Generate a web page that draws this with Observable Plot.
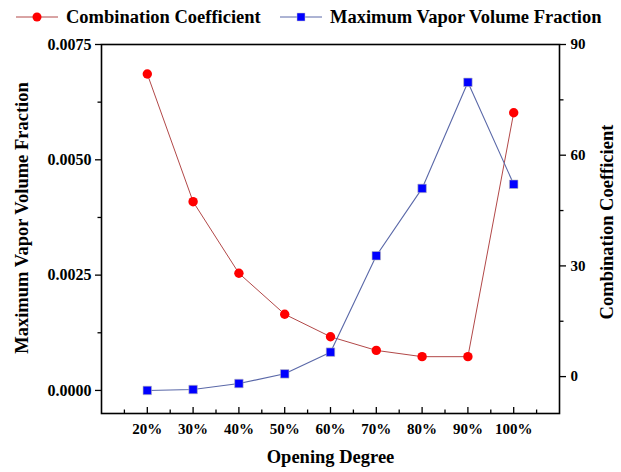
<!DOCTYPE html>
<html><head><meta charset="utf-8">
<script src="https://cdn.jsdelivr.net/npm/d3@7"></script>
<script src="https://cdn.jsdelivr.net/npm/@observablehq/plot@0.6"></script>
<style>
body{margin:0;background:#fff;font-family:"Liberation Serif","Times New Roman",serif;font-weight:bold;color:#000;}
#wrap{position:relative;width:621px;height:472px;overflow:hidden;}
#legend{position:relative;height:34px;width:621px;font-size:18.5px;}
.item{position:absolute;top:0;height:34px;display:flex;align-items:center;white-space:nowrap;}
.item svg{margin-right:8px;}
</style></head><body>
<div id="wrap"><div id="legend"></div><div id="chart"></div></div>
<script>
// ---- data ----
const openings = [20, 30, 40, 50, 60, 70, 80, 90, 100];
const combinationCoefficient = [82.0, 47.4, 28.0, 16.9, 10.8, 7.1, 5.4, 5.4, 71.5];
const maxVaporFraction = [0.00000, 0.00002, 0.00015, 0.00036, 0.00083, 0.00292, 0.00438, 0.00668, 0.00447];
const leftTicks = [0, 0.0025, 0.005, 0.0075];
const leftMinorTicks = [0.00125, 0.00375, 0.00625];
const rightTicks = [0, 30, 60, 90];
const rightMinorTicks = [15, 45, 75];
const xTicks = [20, 30, 40, 50, 60, 70, 80, 90, 100];
const xMinorTicks = [15, 25, 35, 45, 55, 65, 75, 85, 95, 105];
const seriesNames = ["Combination Coefficient", "Maximum Vapor Volume Fraction"];
const axisTitles = {x: "Opening Degree", left: "Maximum Vapor Volume Fraction", right: "Combination Coefficient"};

// ---- scales ----
const xDomain = [10, 110];
const yDomain = [-0.0005, 0.0075];
const rDomain = [-10, 90];
const toLeft = v => yDomain[0] + (v - rDomain[0]) / (rDomain[1] - rDomain[0]) * (yDomain[1] - yDomain[0]);
const fromLeft = v => rDomain[0] + (v - yDomain[0]) / (yDomain[1] - yDomain[0]) * (rDomain[1] - rDomain[0]);

const redLine = "#b24848", redDot = "#ff0000", blueLine = "#5a68a8", blueDot = "#0000ff";

const coefData = openings.map((o, i) => ({x: o, y: toLeft(combinationCoefficient[i])}));
const vaporData = openings.map((o, i) => ({x: o, y: maxVaporFraction[i]}));

// ---- legend ----
const legend = document.getElementById("legend");
function addItem(left, name, marker) {
  const d = document.createElement("div");
  d.className = "item"; d.style.left = left + "px";
  d.innerHTML = `<svg width="42" height="14">${marker}</svg><span>${name}</span>`;
  legend.appendChild(d);
}
addItem(16, seriesNames[0], `<line x1="0" x2="42" y1="7" y2="7" stroke="${redLine}" stroke-width="1"/><circle cx="21" cy="7" r="4.5" fill="${redDot}"/>`);
addItem(280, seriesNames[1], `<line x1="0" x2="42" y1="7" y2="7" stroke="${blueLine}" stroke-width="1"/><rect x="17" y="3" width="8" height="8" fill="${blueDot}" stroke="#ccc" stroke-width="0.5"/>`);

// ---- chart ----
const chart = Plot.plot({
  width: 621, height: 438,
  marginLeft: 101, marginRight: 62, marginTop: 10, marginBottom: 59,
  style: {fontFamily: "'Liberation Serif','Times New Roman',serif", fontWeight: "bold", fontSize: "15px", color: "#000", background: "#fff", overflow: "visible"},
  x: {domain: xDomain, axis: null},
  y: {domain: yDomain, axis: null},
  marks: [
    // left axis
    Plot.axisY(leftTicks, {anchor: "left", tickSize: 6, tickPadding: 4, tickFormat: d3.format(".4f"), label: null, strokeWidth: 1.3, fontSize: 16}),
    Plot.axisY(leftMinorTicks, {anchor: "left", tickSize: 3.5, fill: "none", label: null, strokeWidth: 1.3}),
    // right axis
    Plot.axisY(rightTicks.map(toLeft), {anchor: "right", tickSize: 6, tickPadding: 5, tickFormat: d => String(Math.round(fromLeft(d))), label: null, strokeWidth: 1.3}),
    Plot.axisY(rightMinorTicks.map(toLeft), {anchor: "right", tickSize: 3.5, fill: "none", label: null, strokeWidth: 1.3}),
    // bottom axis (ticks inward)
    Plot.axisX(xTicks, {anchor: "bottom", tickSize: -6, fill: "none", label: null, strokeWidth: 1.3}),
    Plot.axisX(xMinorTicks, {anchor: "bottom", tickSize: -3.5, fill: "none", label: null, strokeWidth: 1.3}),
    Plot.axisX(xTicks, {anchor: "bottom", tickSize: 0, tickPadding: 10, tickFormat: d => d + "%", label: null}),
    Plot.frame({stroke: "#000", strokeWidth: 1.6}),
    // series
    Plot.line(coefData, {x: "x", y: "y", stroke: redLine, strokeWidth: 1}),
    Plot.line(vaporData, {x: "x", y: "y", stroke: blueLine, strokeWidth: 1.1}),
    Plot.dot(coefData, {x: "x", y: "y", r: 4.7, fill: redDot, stroke: "none"}),
    Plot.dot(vaporData, {x: "x", y: "y", r: 4.8, symbol: "square", fill: blueDot, stroke: "#bbb", strokeWidth: 0.6}),
    // axis titles
    Plot.text([axisTitles.x], {text: d => d, frameAnchor: "bottom", dy: 44, lineAnchor: "middle", textAnchor: "middle", fontSize: 18.5}),
    Plot.text([axisTitles.left], {text: d => d, frameAnchor: "left", rotate: -90, dx: -79, dy: -11, lineAnchor: "middle", textAnchor: "middle", fontSize: 18.5}),
    Plot.text([axisTitles.right], {text: d => d, frameAnchor: "right", rotate: -90, dx: 48, dy: -7, lineAnchor: "middle", textAnchor: "middle", fontSize: 18.5})
  ]
});
document.getElementById("chart").appendChild(chart);
</script>
</body></html>
